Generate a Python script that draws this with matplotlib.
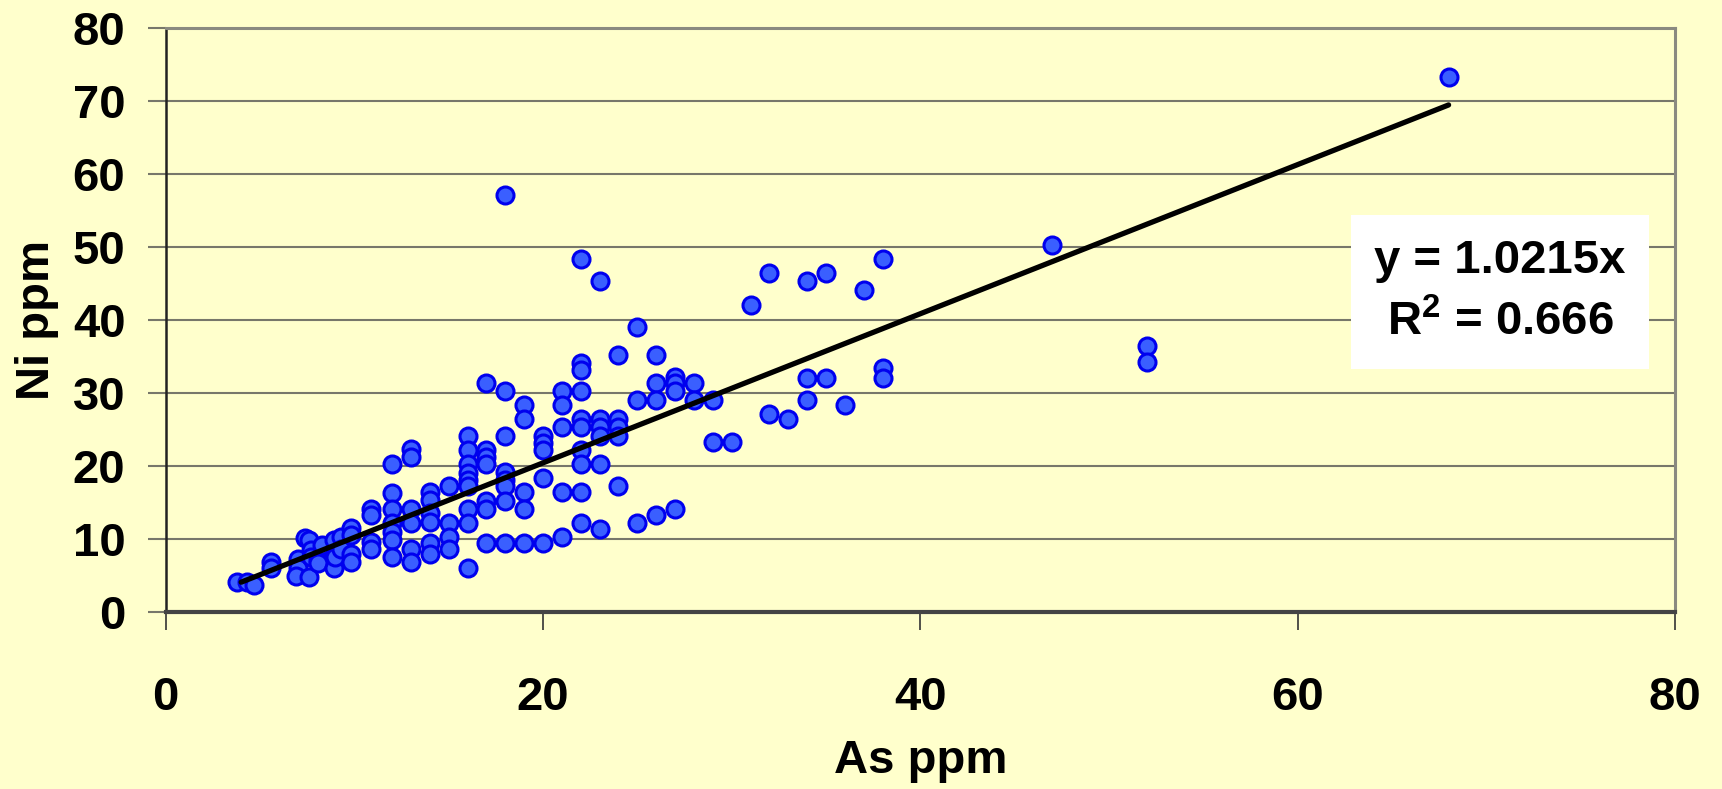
import matplotlib

matplotlib.use("Agg")
import matplotlib.pyplot as plt

plt.rcParams["font.family"] = ["Liberation Sans", "DejaVu Sans"]
plt.rcParams["font.weight"] = "bold"
plt.rcParams["mathtext.fontset"] = "custom"
plt.rcParams["mathtext.rm"] = "Liberation Sans:bold"
plt.rcParams["mathtext.bf"] = "Liberation Sans:bold"

# As ppm (x) / Ni ppm (y)
as_ppm = [
    3.8, 4.3, 4.7, 5.6, 5.6, 7.0, 7.0, 6.9, 7.4, 7.6, 7.7, 7.7, 7.6,
    8.1, 8.1, 8.3, 8.9, 8.9, 9.0, 9.0, 9.3, 9.3, 9.8, 9.8, 9.8, 9.8,
    10.9, 10.9, 10.9, 10.9,
    12, 12, 12, 12, 12, 12, 12,
    13, 13, 13, 13, 13, 13,
    14, 14, 14, 14, 14, 14,
    15, 15, 15, 15,
    16, 16, 16, 16, 16, 16, 16, 16, 16,
    17, 17, 17, 17, 17, 17, 17,
    18, 18, 18, 18, 18, 18, 18, 18,
    19, 19, 19, 19, 19,
    20, 20, 20, 20, 20,
    21, 21, 21, 21, 21,
    22, 22, 22, 22, 22, 22, 22, 22, 22, 22,
    23, 23, 23, 23, 23, 23,
    24, 24, 24, 24, 24,
    25, 25, 25,
    26, 26, 26, 26,
    27, 27, 27, 27,
    28, 28,
    29, 29,
    30,
    31,
    32, 32,
    33,
    34, 34, 34,
    35, 35,
    36,
    37,
    38, 38, 38,
    47,
    52, 52,
    68,
]
ni_ppm = [
    4.1, 4.1, 3.7, 6.9, 6.0, 7.3, 6.0, 4.9, 10.2, 9.9, 8.5, 7.6, 4.8,
    7.1, 6.7, 9.2, 9.9, 6.0, 8.0, 7.6, 10.3, 8.7, 11.5, 10.5, 8.0, 6.8,
    14.1, 13.3, 9.6, 8.6,
    20.3, 16.3, 14.1, 12.2, 11.0, 9.9, 7.6,
    22.3, 21.3, 14.1, 12.2, 8.7, 6.8,
    16.5, 15.3, 13.5, 12.4, 9.5, 7.9,
    17.2, 12.2, 10.3, 8.7,
    24.1, 22.2, 20.3, 19.0, 18.1, 17.2, 14.1, 12.2, 6.0,
    31.4, 22.2, 21.3, 20.3, 15.2, 14.1, 9.4,
    57.1, 30.3, 24.1, 19.2, 18.1, 17.2, 15.2, 9.4,
    28.4, 26.4, 16.4, 14.1, 9.4,
    24.1, 23.1, 22.2, 18.3, 9.4,
    30.3, 28.4, 25.3, 16.4, 10.3,
    48.3, 34.1, 33.2, 30.3, 26.4, 25.3, 22.2, 20.3, 16.4, 12.2,
    45.3, 26.4, 25.3, 24.1, 20.3, 11.4,
    35.2, 26.4, 25.3, 24.1, 17.2,
    39.1, 29.1, 12.2,
    35.2, 31.4, 29.1, 13.3,
    32.2, 31.4, 30.3, 14.1,
    31.4, 29.1,
    29.1, 23.3,
    23.3,
    42.1,
    46.4, 27.1,
    26.4,
    45.3, 32.1, 29.1,
    46.4, 32.1,
    28.4,
    44.1,
    48.3, 33.4, 32.1,
    50.3,
    36.4, 34.2,
    73.3,
]

slope = 1.0215
r_squared = 0.666
trend_x = [4, 68]
trend_y = [slope * v for v in trend_x]

x_ticks = [0, 20, 40, 60, 80]
y_ticks = [0, 10, 20, 30, 40, 50, 60, 70, 80]

BG = "#FFFFCC"
GRID = "#77776A"

fig = plt.figure(figsize=(17.22, 7.89), dpi=100, facecolor=BG)
ax = fig.add_axes([0.0962, 0.2243, 0.8765, 0.7402], facecolor=BG)

ax.set_xlim(0, 80)
ax.set_ylim(0, 80)
ax.set_xticks(x_ticks)
ax.set_yticks(y_ticks)

ax.yaxis.grid(True, color=GRID, linewidth=1.5)
ax.set_axisbelow(True)

ax.scatter(as_ppm, ni_ppm, s=150, facecolor="#3A5FFF", edgecolor="#0000EE",
           linewidth=2.2, zorder=3)
ax.plot(trend_x, trend_y, color="black", linewidth=3.8, zorder=4,
        solid_capstyle="round")

ax.text(0.884, 0.548, f"y = {slope}x\nR$^{{2}}$ = {r_squared}",
        transform=ax.transAxes, ha="center", va="center", fontsize=34,
        fontweight="bold", linespacing=1.5, zorder=5,
        bbox=dict(facecolor="white", edgecolor="none", pad=17))

ax.spines["left"].set_color("#222222")
ax.spines["left"].set_linewidth(1.8)
ax.spines["bottom"].set_color("#444444")
ax.spines["bottom"].set_linewidth(3)
ax.spines["top"].set_color("#8A8A80")
ax.spines["top"].set_linewidth(2.2)
ax.spines["right"].set_color("#8A8A80")
ax.spines["right"].set_linewidth(2.2)

ax.tick_params(axis="x", direction="out", length=13, width=1.2, color="#333333",
               pad=33, labelsize=34)
ax.tick_params(axis="y", direction="out", length=13, width=1.5, color="#77776A",
               pad=16, labelsize=34)
for lbl in ax.get_xticklabels() + ax.get_yticklabels():
    lbl.set_fontweight("bold")

ax.set_xlabel("As ppm", fontsize=34, fontweight="bold", labelpad=14)
ax.set_ylabel("Ni ppm", fontsize=34, fontweight="bold", labelpad=10)

fig.savefig("out.png", dpi=100, facecolor=BG)
